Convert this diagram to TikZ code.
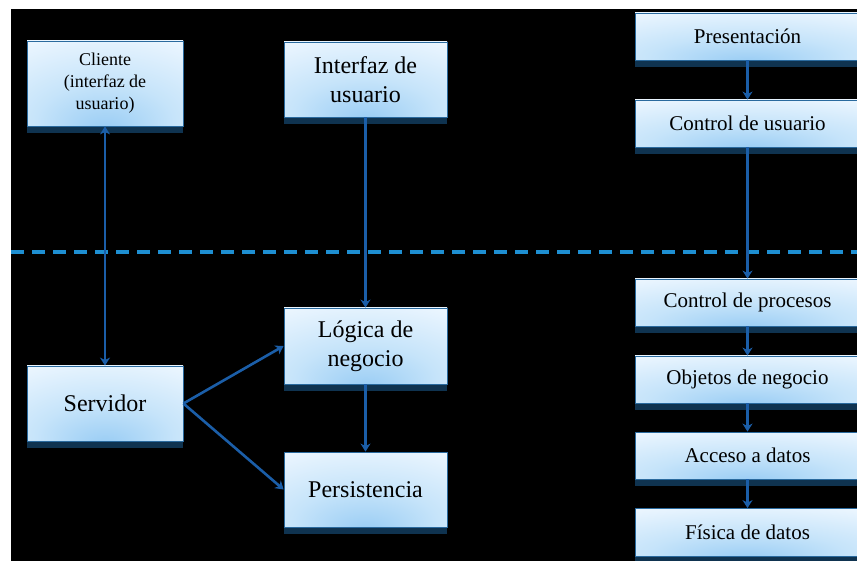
\documentclass[tikz,border=0pt]{standalone}
\usepackage{fontspec}
\setmainfont{Liberation Serif}
\usetikzlibrary{arrows.meta,calc,shadows}
\definecolor{arrowblue}{HTML}{1B5EA8}
\definecolor{dashblue}{HTML}{1E8FD2}
\definecolor{boxborder}{HTML}{2A6A9E}
\definecolor{shadowc}{HTML}{0F3350}
\definecolor{fillin}{HTML}{98CCF4}
\definecolor{fillmid}{HTML}{C6E4FA}
\definecolor{fillout}{HTML}{EEF7FF}
\pgfdeclareradialshading{boxshade}{\pgfpoint{0bp}{-28bp}}{color(0bp)=(fillin); color(22bp)=(fillmid); color(48bp)=(fillout); color(100bp)=(fillout)}
\tikzset{
  box/.style={draw=boxborder, line width=0.8pt, shading=boxshade, align=center, inner sep=2pt, text=black,
    drop shadow={shadow xshift=0pt, shadow yshift=-7pt, fill=shadowc, opacity=1}},
  bigbox/.style={box, minimum width=163pt, minimum height=75pt, font=\fontsize{24}{29}\selectfont},
  leftbox/.style={box, minimum width=156pt, minimum height=75pt, font=\fontsize{24}{29}\selectfont},
  rightbox/.style={box, minimum width=225pt, minimum height=47pt, font=\fontsize{21}{25}\selectfont},
  conn/.style={draw=arrowblue, line width=2.6pt, -{Stealth[length=8pt,width=10pt,inset=2.5pt]}},
  dashline/.style={draw=dashblue, line width=3.2pt, dash pattern=on 13pt off 8pt}
}
\begin{document}
\begin{tikzpicture}[x=1pt,y=1pt]
\useasboundingbox (0,0) rectangle (857,-561);
\clip (0,0) rectangle (857,-561);
\fill[white] (0,0) rectangle (857,-561);
\fill[black] (11,-9) rectangle (857,-561);
\coordinate (dl) at (11,-252);
\coordinate (dr) at (857,-252);
\draw[dashline] (dl) -- (dr);

\node[box, minimum width=156pt, minimum height=85pt, font=\fontsize{18}{22}\selectfont] (cli) at (105,-83.5) {Cliente\\(interfaz de\\usuario)};
\node[bigbox] (iu) at (365.5,-79.5) {Interfaz de\\usuario};
\node[leftbox] (srv) at (105,-403.5) {Servidor};
\node[bigbox, minimum height=76pt] (log) at (365.5,-346) {Lógica de\\negocio};
\node[bigbox] (per) at (365.5,-489.5) {Persistencia};

\node[rightbox] (pre) at (747.5,-36.5) {Presentación};
\node[rightbox] (cu) at (747.5,-123.5) {Control de usuario};
\node[rightbox] (cp) at (747.5,-302.5) {Control de procesos};
\node[rightbox] (on) at (747.5,-379.5) {Objetos de negocio};
\node[rightbox] (ad) at (747.5,-455.5) {Acceso a datos};
\node[rightbox, minimum height=48pt] (fd) at (747.5,-532.5) {Física de datos};

\draw[conn, {Stealth[length=8pt,width=10pt,inset=2.5pt]}-{Stealth[length=8pt,width=10pt,inset=2.5pt]}] (cli.south) -- (srv.north);
\draw[conn] (iu.south) -- (log.north);
\draw[conn] (log.south) -- (per.north);
\draw[conn] (srv.east) -- (log.west);
\draw[conn] (srv.east) -- (per.west);
\draw[conn] (pre.south) -- (cu.north);
\draw[conn] (cu.south) -- (cp.north);
\draw[conn] (cp.south) -- (on.north);
\draw[conn] (on.south) -- (ad.north);
\draw[conn] (ad.south) -- (fd.north);
\end{tikzpicture}
\end{document}
